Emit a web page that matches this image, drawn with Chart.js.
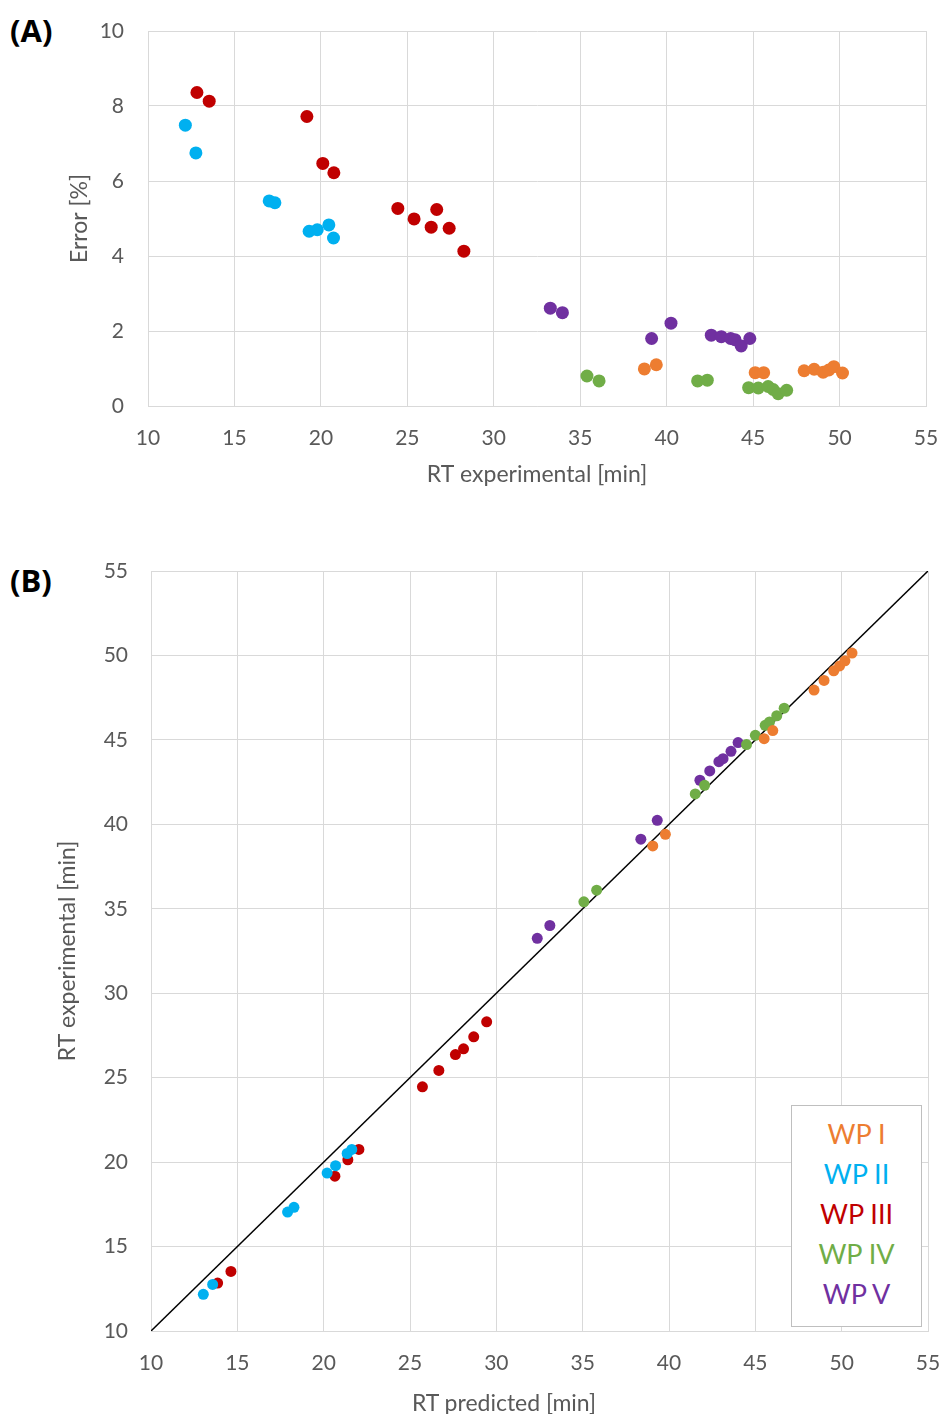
<!DOCTYPE html>
<html>
<head>
<meta charset="utf-8">
<script src="https://cdn.jsdelivr.net/npm/chart.js@4.4.1/dist/chart.umd.min.js"></script>
<style>
  body { margin: 0; background: #fff; font-family: Lato, "Open Sans", sans-serif; }
  #page { position: relative; width: 943px; height: 1414px; overflow: hidden; }
  .wrap { position: absolute; left: 0; width: 943px; }
  .panel-tag { position: absolute; font-weight: bold; font-size: 31px; color: #000; font-family: "Open Sans", sans-serif; }
  #legendB { position: absolute; left: 791px; top: 1105px; width: 129px; height: 220px; border: 1.5px solid #bfbfbf; background: #fff; }
  #legendB div { text-align: center; font-size: 27px; line-height: 40px; font-family: Lato, "Open Sans", sans-serif; }
  #xTitleB { position: absolute; left: 304px; width: 400px; top: 1388px; text-align: center; font-size: 23px; color: #595959; font-family: Lato, "Open Sans", sans-serif; }
</style>
</head>
<body>
<div id="page">
  <div class="panel-tag" style="left:10px; top:9px;">(A)</div>
  <div class="panel-tag" style="left:10px; top:559px;">(B)</div>
  <div class="wrap" style="top:0; height:510px;"><canvas id="chartA"></canvas></div>
  <div class="wrap" style="top:500px; height:914px;"><canvas id="chartB"></canvas></div>
  <div id="legendB"></div>
  <div id="xTitleB">RT predicted [min]</div>
</div>
<script>
// series names and colours
var seriesNames = ['WP I', 'WP II', 'WP III', 'WP IV', 'WP V'];
var seriesColors = ['#ED7D31', '#00B0F0', '#C00000', '#70AD47', '#7030A0'];

// panel A: experimental retention time vs relative error
var expWP1 = [38.71, 39.40, 45.12, 45.61, 47.95, 48.53, 49.05, 49.38, 49.67, 50.17];
var errWP1 = [0.99, 1.10, 0.89, 0.89, 0.94, 0.98, 0.90, 0.96, 1.05, 0.88];
var expWP2 = [12.16, 12.77, 17.01, 17.34, 19.32, 19.79, 20.46, 20.73];
var errWP2 = [7.49, 6.75, 5.47, 5.42, 4.66, 4.70, 4.83, 4.48];
var expWP3 = [12.83, 13.54, 19.19, 20.11, 20.75, 24.45, 25.39, 26.70, 26.38, 27.42, 28.27];
var errWP3 = [8.36, 8.13, 7.72, 6.47, 6.22, 5.27, 4.99, 5.24, 4.77, 4.74, 4.13];
var expWP4 = [35.39, 36.09, 41.79, 42.35, 44.74, 45.30, 45.87, 46.16, 46.45, 46.94];
var errWP4 = [0.80, 0.67, 0.67, 0.69, 0.49, 0.48, 0.52, 0.44, 0.33, 0.42];
var expWP5 = [33.27, 33.97, 39.13, 40.25, 42.58, 43.16, 43.70, 43.95, 44.31, 44.81];
var errWP5 = [2.61, 2.49, 1.80, 2.21, 1.89, 1.85, 1.80, 1.77, 1.60, 1.80];

// panel B: predicted vs experimental retention time
var predB1 = [39.06, 39.79, 45.51, 46.01, 48.40, 48.98, 49.54, 49.88, 50.19, 50.60];
var obsB1  = [38.72, 39.41, 45.07, 45.55, 47.95, 48.52, 49.09, 49.38, 49.68, 50.14];
var predB2 = [13.03, 13.57, 17.91, 18.28, 20.20, 20.69, 21.36, 21.63];
var obsB2  = [12.17, 12.76, 17.04, 17.32, 19.35, 19.79, 20.51, 20.75];
var predB3 = [13.86, 14.63, 20.65, 21.40, 22.04, 25.72, 26.67, 27.63, 28.10, 28.69, 29.44];
var obsB3  = [12.84, 13.53, 19.17, 20.14, 20.75, 24.46, 25.43, 26.37, 26.71, 27.42, 28.31];
var predB4 = [35.07, 35.81, 41.52, 42.06, 44.49, 45.00, 45.57, 45.82, 46.24, 46.67];
var obsB4  = [35.41, 36.10, 41.80, 42.31, 44.72, 45.27, 45.86, 46.06, 46.43, 46.88];
var predB5 = [32.37, 33.10, 38.37, 39.32, 41.79, 42.36, 42.89, 43.13, 43.59, 44.00];
var obsB5  = [33.25, 34.01, 39.12, 40.24, 42.61, 43.16, 43.71, 43.89, 44.32, 44.84];

// 1:1 reference line
var diagX = [10, 55];
var diagY = [10, 55];

var expA = [expWP1, expWP2, expWP3, expWP4, expWP5];
var errA = [errWP1, errWP2, errWP3, errWP4, errWP5];
var predB = [predB1, predB2, predB3, predB4, predB5];
var obsB = [obsB1, obsB2, obsB3, obsB4, obsB5];

var textGrey = '#595959';
var gridGrey = '#d9d9d9';
var fontFam = 'Lato, "Open Sans", sans-serif';

function toPoints(xs, ys) {
    return xs.map(function(x, i) { return { x: x, y: ys[i] }; });
}

function makeScatterSets(xsList, ysList, radius) {
    return seriesNames.map(function(name, i) {
        return {
            label: name,
            data: toPoints(xsList[i], ysList[i]),
            backgroundColor: seriesColors[i],
            borderColor: seriesColors[i],
            borderWidth: 0,
            pointRadius: radius,
            pointHoverRadius: radius
        };
    });
}

//builds one linear axis; fixedSize pins the axis box so the plot area lands where it should
function axis(min, max, step, titleText, titlePad, tickPad, fixedSize, isX) {
    return {
        type: 'linear',
        min: min,
        max: max,
        ticks: { stepSize: step, padding: tickPad, color: textGrey, font: { family: fontFam, size: 21 } },
        grid: { color: gridGrey, lineWidth: 1, drawTicks: false },
        border: { color: gridGrey },
        title: {
            display: titleText !== '',
            text: titleText,
            color: textGrey,
            font: { family: fontFam, size: 23 },
            padding: titlePad
        },
        afterFit: function(scale) {
            if (isX) scale.height = fixedSize;
            else scale.width = fixedSize;
            // drop the label overhang padding, layout.padding does that job here
            scale.paddingLeft = 0;
            scale.paddingRight = 0;
            scale.paddingTop = 0;
            scale.paddingBottom = 0;
        }
    };
}

Chart.defaults.animation = false;

new Chart(document.getElementById('chartA'), {
    type: 'scatter',
    data: { datasets: makeScatterSets(expA, errA, 6.5) },
    options: {
        responsive: true,
        maintainAspectRatio: false,
        layout: { padding: { top: 31, right: 17, left: 0, bottom: 0 } },
        plugins: { legend: { display: false }, tooltip: { enabled: false } },
        scales: {
            x: axis(10, 55, 5, 'RT experimental [min]', { top: 0, bottom: 22 }, 20, 104, true),
            y: axis(0, 10, 2, 'Error [%]', { top: 66, bottom: 0 }, 24, 148, false)
        }
    }
});

var setsB = makeScatterSets(predB, obsB, 5.5);
setsB.push({
    label: 'diagonal',
    type: 'line',
    data: toPoints(diagX, diagY),
    borderColor: '#000000',
    borderWidth: 1.5,
    pointRadius: 0,
    fill: false,
    order: 10
});

//x title of panel B sits left of centre in the original, so it is the html div above
new Chart(document.getElementById('chartB'), {
    type: 'scatter',
    data: { datasets: setsB },
    options: {
        responsive: true,
        maintainAspectRatio: false,
        layout: { padding: { top: 71, right: 15, left: 0, bottom: 0 } },
        plugins: { legend: { display: false }, tooltip: { enabled: false } },
        scales: {
            x: axis(10, 55, 5, '', { top: 0, bottom: 0 }, 20, 83, true),
            y: axis(10, 55, 5, 'RT experimental [min]', { top: 54, bottom: 0 }, 23, 151, false)
        }
    }
});

// legend for panel B, coloured text only
var legendBox = document.getElementById('legendB');
seriesNames.forEach(function(name, i) {
    var row = document.createElement('div');
    row.textContent = name;
    row.style.color = seriesColors[i];
    if (i === 0) row.style.marginTop = '8px';
    legendBox.appendChild(row);
});
</script>
</body>
</html>
